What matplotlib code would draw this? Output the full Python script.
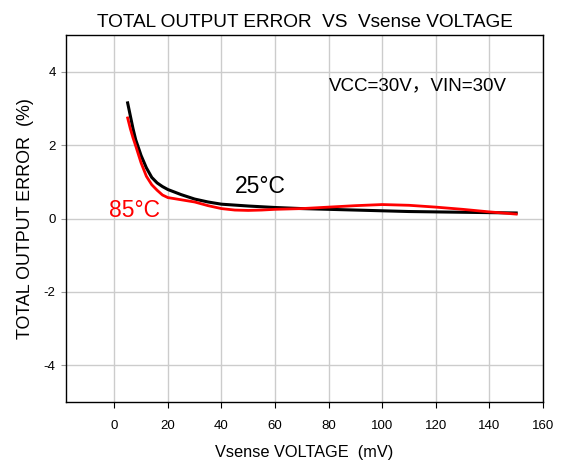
import matplotlib.pyplot as plt

plt.rcParams['font.family'] = ['Liberation Sans', 'Noto Sans CJK SC', 'DejaVu Sans']
plt.rcParams['axes.unicode_minus'] = False

# 25°C curve
x_25 = [5, 6, 7, 8, 10, 12, 14, 16, 18, 20, 25, 30, 35, 40, 50, 60, 70, 80, 90, 100, 110, 120, 130, 140, 150]
y_25 = [3.15, 2.8, 2.45, 2.15, 1.72, 1.38, 1.12, 0.97, 0.87, 0.79, 0.65, 0.53, 0.45, 0.39, 0.34, 0.30, 0.27,
        0.25, 0.23, 0.21, 0.19, 0.18, 0.17, 0.16, 0.15]

# 85°C curve
x_85 = [5, 6, 7, 8, 10, 12, 14, 16, 18, 20, 25, 30, 35, 40, 45, 50, 55, 60, 70, 80, 90, 100, 110, 120, 130, 140, 150]
y_85 = [2.74, 2.45, 2.2, 1.98, 1.52, 1.15, 0.92, 0.77, 0.64, 0.57, 0.51, 0.45, 0.35, 0.27, 0.23, 0.22, 0.23, 0.25,
        0.27, 0.31, 0.35, 0.38, 0.36, 0.31, 0.25, 0.18, 0.12]

x_ticks = [0, 20, 40, 60, 80, 100, 120, 140, 160]
y_ticks = [-4, -2, 0, 2, 4]

fig = plt.figure(figsize=(5.64, 4.66), dpi=100)
ax = fig.add_axes([66 / 564, 1 - 402 / 466, (543 - 66) / 564, (402 - 35) / 466])

ax.plot(x_25, y_25, color='black', linewidth=2.2, zorder=3)
ax.plot(x_85, y_85, color='#ff0000', linewidth=2.0, zorder=4)

ax.set_xlim(-18, 160)
ax.set_ylim(-5, 5)
ax.set_xticks(x_ticks)
ax.set_yticks(y_ticks)
ax.grid(True, color='#cccccc', linewidth=1.0)
ax.set_axisbelow(True)
ax.tick_params(direction='out', length=4, width=0.8, labelsize=9.5, colors='black')
ax.tick_params(axis='x', pad=9)
ax.tick_params(axis='y', length=3.5, pad=4, color='#999999')
for s in ax.spines.values():
    s.set_linewidth(1.0)

ax.set_title('TOTAL OUTPUT ERROR  VS  Vsense VOLTAGE', fontsize=13.7, pad=6)
ax.set_xlabel('Vsense VOLTAGE  (mV)', fontsize=11.8, labelpad=9)
ax.set_ylabel('TOTAL OUTPUT ERROR  (%)', fontsize=12.9, labelpad=7)

ax.text(45, 0.7, '25°C', fontsize=16.5, color='black')
ax.text(-2, 0.05, '85°C', fontsize=16.5, color='#ff0000')
ax.text(80, 3.5, 'VCC=30V，VIN=30V', fontsize=13.5, color='black')

fig.savefig('out.png', dpi=100)
